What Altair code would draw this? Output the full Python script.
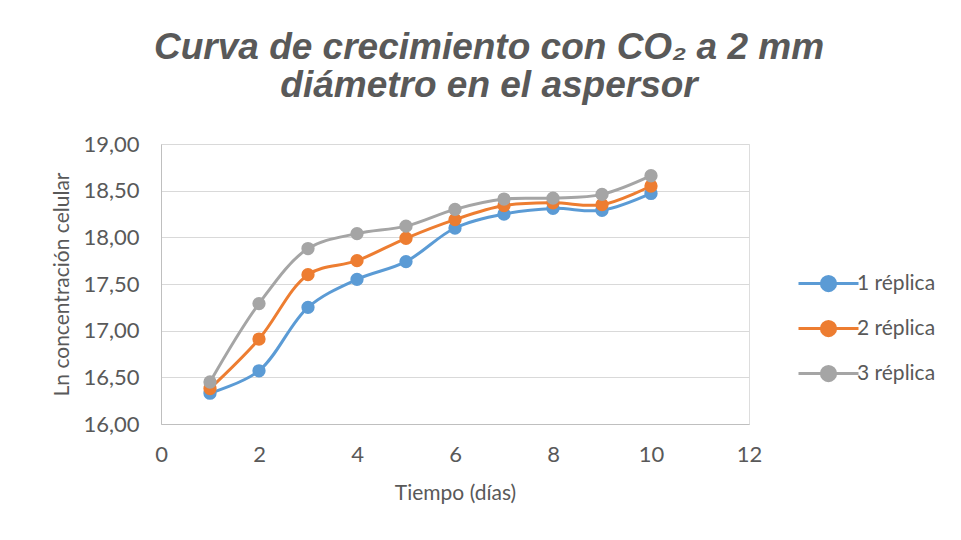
import altair as alt
import pandas as pd

days = [1, 2, 3, 4, 5, 6, 7, 8, 9, 10]
series_names = ["1 réplica", "2 réplica", "3 réplica"]
replica1 = [16.33, 16.57, 17.25, 17.55, 17.74, 18.10, 18.25, 18.31, 18.29, 18.47]
replica2 = [16.38, 16.91, 17.60, 17.75, 17.99, 18.19, 18.34, 18.37, 18.35, 18.55]
replica3 = [16.45, 17.29, 17.88, 18.04, 18.12, 18.30, 18.41, 18.42, 18.46, 18.66]
colors = ["#5B9BD5", "#ED7D31", "#A5A5A5"]

rows = []
for name, vals in zip(series_names, [replica1, replica2, replica3]):
    for d, v in zip(days, vals):
        rows.append({"dia": d, "valor": v, "serie": name})
df = pd.DataFrame(rows)

TXT = "#595959"
FONT = "Lato"

x = alt.X("dia:Q", scale=alt.Scale(domain=[0, 12], nice=False),
          axis=alt.Axis(values=[0, 2, 4, 6, 8, 10, 12], title="Tiempo (días)",
                        grid=False, ticks=False, domainColor="#bfbfbf", labelFlush=False,
                        labelFont=FONT, labelFontSize=22, labelColor=TXT, labelPadding=20,
                        titleFont=FONT, titleFontSize=21, titleFontWeight="normal",
                        titleColor=TXT, titlePadding=17))
y = alt.Y("valor:Q", scale=alt.Scale(domain=[16, 19], nice=False, zero=False),
          axis=alt.Axis(values=[16, 16.5, 17, 17.5, 18, 18.5, 19], title="Ln concentración celular",
                        labelExpr="replace(format(datum.value, '.2f'), '.', ',')",
                        grid=True, gridColor="#d9d9d9", ticks=False, domainColor="#bfbfbf",
                        labelFlush=False,
                        labelFont=FONT, labelFontSize=22, labelColor=TXT, labelPadding=22,
                        titleFont=FONT, titleFontSize=21, titleFontWeight="normal",
                        titleColor=TXT, titlePadding=10))

color_scale = alt.Scale(domain=series_names, range=colors)
legend_path = "M-4,0L4,0M-0.95,0A0.95,0.95,0,1,1,0.95,0A0.95,0.95,0,1,1,-0.95,0Z"
leg = alt.Legend(title=None, orient="none", legendX=657, legendY=129,
                 symbolType=legend_path, symbolSize=225,
                 symbolStrokeWidth=3, symbolOpacity=1,
                 labelFont=FONT, labelFontSize=21, labelColor=TXT,
                 labelOffset=18, rowPadding=18, padding=0)

lines = alt.Chart(df).mark_line(strokeWidth=3, interpolate="catmull-rom").encode(
    x=x, y=y,
    stroke=alt.Stroke("serie:N", scale=color_scale, legend=leg),
    detail="serie:N",
)
points = alt.Chart(df).mark_point(filled=True, size=177, opacity=1, strokeWidth=0).encode(
    x=x, y=y,
    fill=alt.Fill("serie:N", scale=color_scale, legend=leg),
)

chart = alt.layer(lines, points).properties(
    width=588, height=280,
    padding={"left": 43, "top": 21, "right": 5, "bottom": 5},
    title=alt.TitleParams(
        text=["Curva de crecimiento con CO₂ a 2 mm", "diámetro en el aspersor"],
        font="Liberation Sans", fontStyle="italic", fontWeight="bold",
        fontSize=37, lineHeight=38, color=TXT, anchor="middle", dx=34, offset=28),
).configure_view(stroke=None).configure(background="white")

chart.save("out.html", embed_options={"renderer": "svg", "actions": False})
